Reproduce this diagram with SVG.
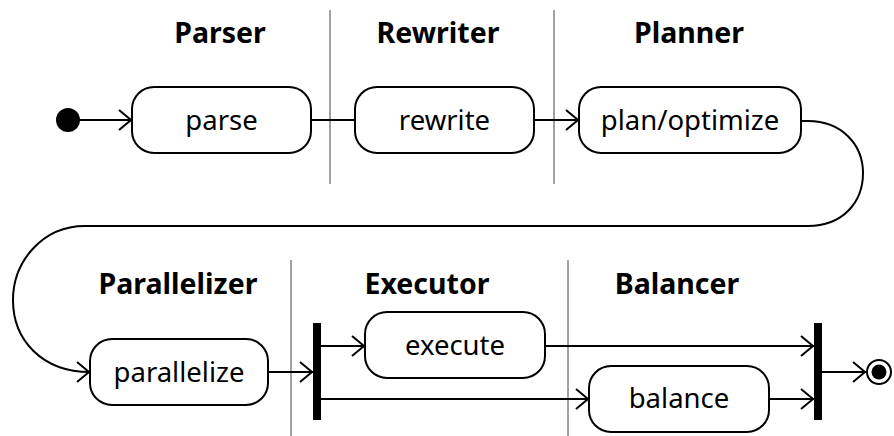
<svg xmlns="http://www.w3.org/2000/svg" width="894" height="436" viewBox="0 0 894 436">
<style>
.lane{font-family:"Noto Sans","Open Sans",sans-serif;font-weight:bold;font-size:28.5px;text-anchor:middle;fill:#000}
.lbl{font-family:"Noto Sans","Open Sans",sans-serif;font-size:27.5px;text-anchor:middle;fill:#000}
.box{fill:#fff;stroke:#000;stroke-width:2}
.div{stroke:#444;stroke-width:1}
.edge{fill:none;stroke:#000;stroke-width:2}
</style>
<defs>
<marker id="arr" viewBox="0 0 14 22" refX="14" refY="11" markerWidth="14" markerHeight="22" markerUnits="userSpaceOnUse" orient="auto">
<path d="M1,1 L13,11 L1,21" fill="none" stroke="#000" stroke-width="2"/>
</marker>
</defs>
<g id="lanes">
<line class="div" x1="330" y1="10" x2="330" y2="184"/>
<line class="div" x1="554" y1="10" x2="554" y2="184"/>
<line class="div" x1="291" y1="260" x2="291" y2="436"/>
<line class="div" x1="568" y1="260" x2="568" y2="436"/>
<text class="lane" x="220" y="43">Parser</text>
<text class="lane" x="438" y="43">Rewriter</text>
<text class="lane" x="689" y="43">Planner</text>
<text class="lane" x="178" y="294">Parallelizer</text>
<text class="lane" x="427" y="294">Executor</text>
<text class="lane" x="677" y="294">Balancer</text>
</g>
<g id="edges">
<line class="edge" x1="80" y1="120" x2="132" y2="120" marker-end="url(#arr)"/>
<line class="edge" x1="311" y1="120" x2="355" y2="120"/>
<line class="edge" x1="534" y1="120" x2="579" y2="120" marker-end="url(#arr)"/>
<path class="edge" d="M801,121 L808,121 C842,121 863,145 863,173 C863,203 842,226 808,226 L85,226 C42,226 13,262 13,300 C13,340 42,372 90,372" marker-end="url(#arr)"/>
<line class="edge" x1="268" y1="372" x2="313" y2="372" marker-end="url(#arr)"/>
<line class="edge" x1="321" y1="346" x2="365" y2="346" marker-end="url(#arr)"/>
<line class="edge" x1="321" y1="399" x2="589" y2="399" marker-end="url(#arr)"/>
<line class="edge" x1="545" y1="346" x2="814" y2="346" marker-end="url(#arr)"/>
<line class="edge" x1="769" y1="399" x2="814" y2="399" marker-end="url(#arr)"/>
<line class="edge" x1="822" y1="372" x2="866" y2="372" marker-end="url(#arr)"/>
</g>
<g id="start"><circle cx="68" cy="120" r="12" fill="#000"/></g>
<g id="parse"><rect class="box" x="132" y="87" width="179" height="66" rx="22"/><text class="lbl" x="221.5" y="130">parse</text></g>
<g id="rewrite"><rect class="box" x="355" y="87" width="179" height="66" rx="22"/><text class="lbl" x="444.5" y="130">rewrite</text></g>
<g id="plan"><rect class="box" x="579" y="87" width="222" height="66" rx="22"/><text class="lbl" x="690" y="130">plan/optimize</text></g>
<g id="parallelize"><rect class="box" x="90" y="339" width="178" height="66" rx="22"/><text class="lbl" x="179" y="382">parallelize</text></g>
<g id="fork"><rect x="313" y="323" width="8" height="97" fill="#000"/></g>
<g id="execute"><rect class="box" x="365" y="312" width="180" height="66" rx="22"/><text class="lbl" x="455" y="355">execute</text></g>
<g id="balance"><rect class="box" x="589" y="366" width="180" height="66" rx="22"/><text class="lbl" x="679" y="408">balance</text></g>
<g id="join"><rect x="814" y="323" width="8" height="97" fill="#000"/></g>
<g id="end"><circle cx="879" cy="372" r="12" fill="#fff" stroke="#000" stroke-width="2"/><circle cx="879" cy="372" r="7.5" fill="#000"/></g>
</svg>
